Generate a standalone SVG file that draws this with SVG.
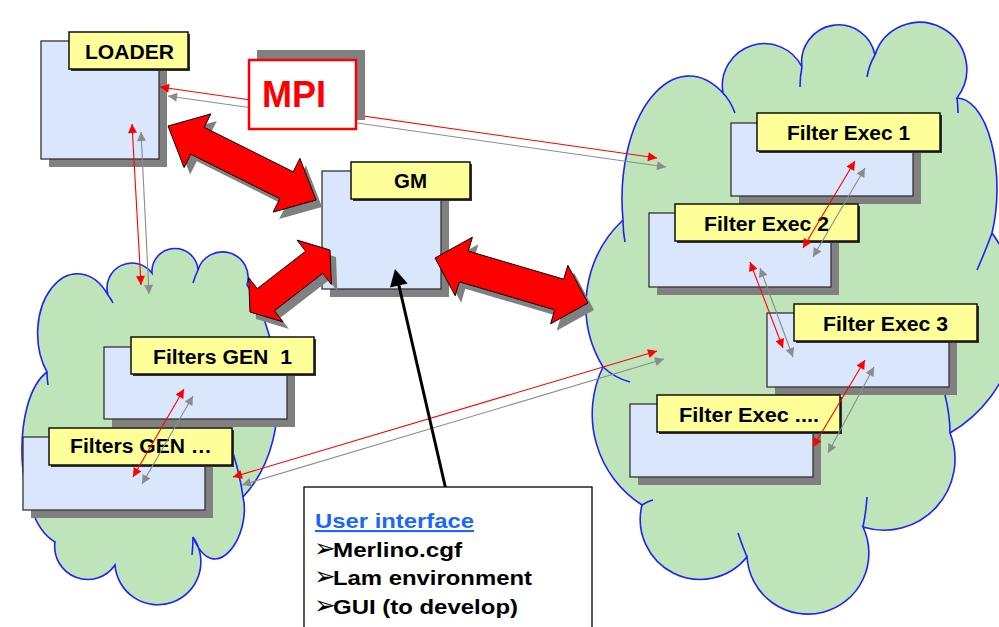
<svg xmlns="http://www.w3.org/2000/svg" width="999" height="627" viewBox="0 0 999 627">
<defs>
<style>
.cloud{fill:#bfe4b9;stroke:#1f1fff;stroke-width:1.6}
.tail{fill:none;stroke:#1f1fff;stroke-width:1.6}
.shadow{fill:#808080}
.box{fill:#d9e6fb;stroke:#333;stroke-width:1.3}
.lab{fill:#ffff99;stroke:#111;stroke-width:1.5}
.labsh{fill:#333}
.t{font-family:"Liberation Sans",Arial,sans-serif;font-weight:bold;font-size:20px;fill:#000;text-anchor:middle}
.big{fill:#ff0000;stroke:#000;stroke-width:1}
.lr{stroke:#ff0000;stroke-width:1.1;fill:none;marker-start:url(#mr);marker-end:url(#mr)}
.lg{stroke:#8c8c8c;stroke-width:1.1;fill:none;marker-start:url(#mg);marker-end:url(#mg)}
.ui{font-family:"Liberation Sans",Arial,sans-serif;font-weight:bold;font-size:21px;fill:#000}
.bul{font-family:"DejaVu Sans",sans-serif;font-weight:bold;font-size:26px}
</style>
<marker id="mr" viewBox="0 0 10 10" refX="10" refY="5" markerUnits="userSpaceOnUse" markerWidth="12" markerHeight="9" orient="auto-start-reverse"><path d="M0,0 L10,5 L0,10 z" fill="#ff0000"/></marker>
<marker id="mg" viewBox="0 0 10 10" refX="10" refY="5" markerUnits="userSpaceOnUse" markerWidth="12" markerHeight="9" orient="auto-start-reverse"><path d="M0,0 L10,5 L0,10 z" fill="#8c8c8c"/></marker>
</defs>
<rect width="999" height="627" fill="#fff"/>

<g id="cloud-gen">
<path class="cloud" d="M47,372 A38,57 0 0 1 108,295 A25,25 0 0 1 152,273 A23,23 0 0 1 198,270 A25,25 0 0 1 247,285 C270,315 305,430 243,497 C252,535 215,590 193,537 A43,43 0 1 1 115,565 A33,33 0 0 1 55,542 C15,520 10,400 47,372 Z"/>
<path class="tail" d="M108,295 Q111,299 113,303 M198,270 Q195,276 193,283 M243,497 Q240,475 233,453 M193,537 Q193,546 192,555 M47,372 Q47,378 48,385"/>
</g>
<g id="cloud-exec">
<path class="cloud" d="M623,220 A67,123 0 0 1 723,93 A42,42 0 0 1 802,67 A37,37 0 0 1 875,55 A47,47 0 1 1 957,98 A40,91 0 0 1 992,233 A138,138 0 0 1 950,433 A71,71 0 0 1 863,527 A61,61 0 1 1 747,557 A60,60 0 0 1 642,505 A108,108 0 0 1 603,367 A118,118 0 0 1 623,220 Z"/>
<path class="tail" d="M623,220 Q623,232 625,242 M723,93 Q730,100 735,113 M802,67 Q800,76 800,87 M875,55 Q869,65 867,77 M957,98 Q958,105 958,113 M992,233 Q985,252 977,270 M950,433 Q950,415 945,395 M863,527 Q866,512 867,497 M747,557 Q742,545 738,533 M642,505 Q648,501 653,500 M603,367 Q615,378 630,382"/>
</g>

<g id="loader">
<rect class="shadow" x="49" y="49" width="118" height="118"/>
<rect class="box" x="41" y="41" width="118" height="118"/>
<rect class="labsh" x="71" y="34" width="119" height="37"/>
<rect class="lab" x="69" y="32" width="119" height="37"/>
<text class="t" x="129.5" y="59" textLength="89" lengthAdjust="spacingAndGlyphs">LOADER</text>
</g>
<g id="gm">
<rect class="shadow" x="330" y="179" width="119" height="118"/>
<rect class="box" x="322" y="171" width="119" height="118"/>
<rect class="labsh" x="353" y="164" width="119" height="37"/>
<rect class="lab" x="351" y="162" width="119" height="37"/>
<text class="t" x="410.5" y="188" textLength="33" lengthAdjust="spacingAndGlyphs">GM</text>
</g>
<g id="exec1">
<rect class="shadow" x="739" y="131" width="182" height="73"/>
<rect class="box" x="731" y="123" width="182" height="73"/>
<rect class="labsh" x="759" y="115" width="183" height="38"/>
<rect class="lab" x="757" y="113" width="183" height="38"/>
<text class="t" x="848.5" y="140" textLength="123" lengthAdjust="spacingAndGlyphs">Filter Exec 1</text>
</g>
<g id="exec2">
<rect class="shadow" x="657" y="221" width="182" height="74"/>
<rect class="box" x="649" y="213" width="182" height="74"/>
<rect class="labsh" x="677" y="206" width="183" height="37"/>
<rect class="lab" x="675" y="204" width="183" height="37"/>
<text class="t" x="766.5" y="231" textLength="125" lengthAdjust="spacingAndGlyphs">Filter Exec 2</text>
</g>
<g id="exec3">
<rect class="shadow" x="775" y="321" width="182" height="74"/>
<rect class="box" x="767" y="313" width="182" height="74"/>
<rect class="labsh" x="796" y="306" width="183" height="37"/>
<rect class="lab" x="794" y="304" width="183" height="37"/>
<text class="t" x="885.5" y="331" textLength="125" lengthAdjust="spacingAndGlyphs">Filter Exec 3</text>
</g>
<g id="exec4">
<rect class="shadow" x="638" y="412" width="183" height="73"/>
<rect class="box" x="630" y="404" width="183" height="73"/>
<rect class="labsh" x="659" y="397" width="183" height="37"/>
<rect class="lab" x="657" y="395" width="183" height="37"/>
<text class="t" x="749" y="422" textLength="140" lengthAdjust="spacingAndGlyphs">Filter Exec ....</text>
</g>
<g id="gen1">
<rect class="shadow" x="112" y="355" width="183" height="72"/>
<rect class="box" x="104" y="347" width="183" height="72"/>
<rect class="labsh" x="133" y="339" width="183" height="37"/>
<rect class="lab" x="131" y="337" width="183" height="37"/>
<text class="t" x="222.5" y="364" textLength="139" lengthAdjust="spacingAndGlyphs">Filters GEN&#160; 1</text>
</g>
<g id="gen2">
<rect class="shadow" x="31" y="445" width="182" height="73"/>
<rect class="box" x="23" y="437" width="182" height="73"/>
<rect class="labsh" x="51" y="430" width="183" height="37"/>
<rect class="lab" x="49" y="428" width="183" height="37"/>
<text class="t" x="141" y="453" textLength="142" lengthAdjust="spacingAndGlyphs">Filters GEN …</text>
</g>

<g id="connectors">
<line class="lr" x1="160" y1="87" x2="657" y2="158"/>
<line class="lg" x1="168" y1="96" x2="666" y2="167"/>
<line class="lr" x1="132" y1="124" x2="141" y2="285"/>
<line class="lg" x1="141" y1="132" x2="149" y2="294"/>
<line class="lr" x1="184" y1="389" x2="133" y2="477"/>
<line class="lg" x1="193" y1="396" x2="142" y2="484"/>
<line class="lr" x1="233" y1="477" x2="657" y2="351"/>
<line class="lg" x1="242" y1="485" x2="664" y2="359"/>
<line class="lr" x1="855" y1="161" x2="803" y2="248"/>
<line class="lg" x1="865" y1="168" x2="813" y2="257"/>
<line class="lr" x1="750" y1="262" x2="783" y2="348"/>
<line class="lg" x1="760" y1="268" x2="793" y2="357"/>
<line class="lr" x1="865" y1="360" x2="813" y2="447"/>
<line class="lg" x1="874" y1="367" x2="828" y2="453"/>
<g transform="translate(6,7)" class="shadow">
<polygon points="168,126 184.1,167.6 190.8,154.2 279.8,198.7 273.1,212.1 316,200 299.9,158.4 293.2,171.8 204.2,127.3 210.9,113.9"/>
<polygon points="250,312 282.96,321.9 274.4,310.8 322.8,273.3 331.35,284.4 330,250 297.05,240.1 305.6,251.2 257.2,288.7 248.65,277.6"/>
<polygon points="435,258 455.17,295.71 459.26,281.8 554.72,309.88 550.63,323.79 588,303 567.83,265.29 563.74,279.2 468.28,251.12 472.37,237.21"/>
</g>
<polygon class="big" points="168,126 184.1,167.6 190.8,154.2 279.8,198.7 273.1,212.1 316,200 299.9,158.4 293.2,171.8 204.2,127.3 210.9,113.9"/>
<polygon class="big" points="250,312 282.96,321.9 274.4,310.8 322.8,273.3 331.35,284.4 330,250 297.05,240.1 305.6,251.2 257.2,288.7 248.65,277.6"/>
<polygon class="big" points="435,258 455.17,295.71 459.26,281.8 554.72,309.88 550.63,323.79 588,303 567.83,265.29 563.74,279.2 468.28,251.12 472.37,237.21"/>
<line x1="449" y1="503" x2="398.6" y2="284" stroke="#000" stroke-width="3"/>
<polygon points="395,269 407.6,283.6 390,287.6" fill="#000"/>
</g>

<g id="mpi">
<rect class="shadow" x="257" y="50" width="108" height="70"/>
<rect x="249" y="60" width="107" height="69" fill="#fff" stroke="#ff0000" stroke-width="2.5"/>
<text x="294" y="107" font-family="Liberation Sans,Arial,sans-serif" font-weight="bold" font-size="36" fill="#ff0000" text-anchor="middle">MPI</text>
</g>

<g id="user-interface">
<rect x="304" y="487" width="288" height="150" fill="#fff" stroke="#000" stroke-width="1.3"/>
<text class="ui" x="315" y="528" style="fill:#1a66ff" text-decoration="underline" textLength="159" lengthAdjust="spacingAndGlyphs">User interface</text>
<text class="ui" y="557"><tspan class="bul" x="314">➢</tspan><tspan x="333" textLength="129" lengthAdjust="spacingAndGlyphs">Merlino.cgf</tspan></text>
<text class="ui" y="585"><tspan class="bul" x="314">➢</tspan><tspan x="333" textLength="199" lengthAdjust="spacingAndGlyphs">Lam environment</tspan></text>
<text class="ui" y="614"><tspan class="bul" x="314">➢</tspan><tspan x="333" textLength="185" lengthAdjust="spacingAndGlyphs">GUI (to develop)</tspan></text>
</g>
</svg>
